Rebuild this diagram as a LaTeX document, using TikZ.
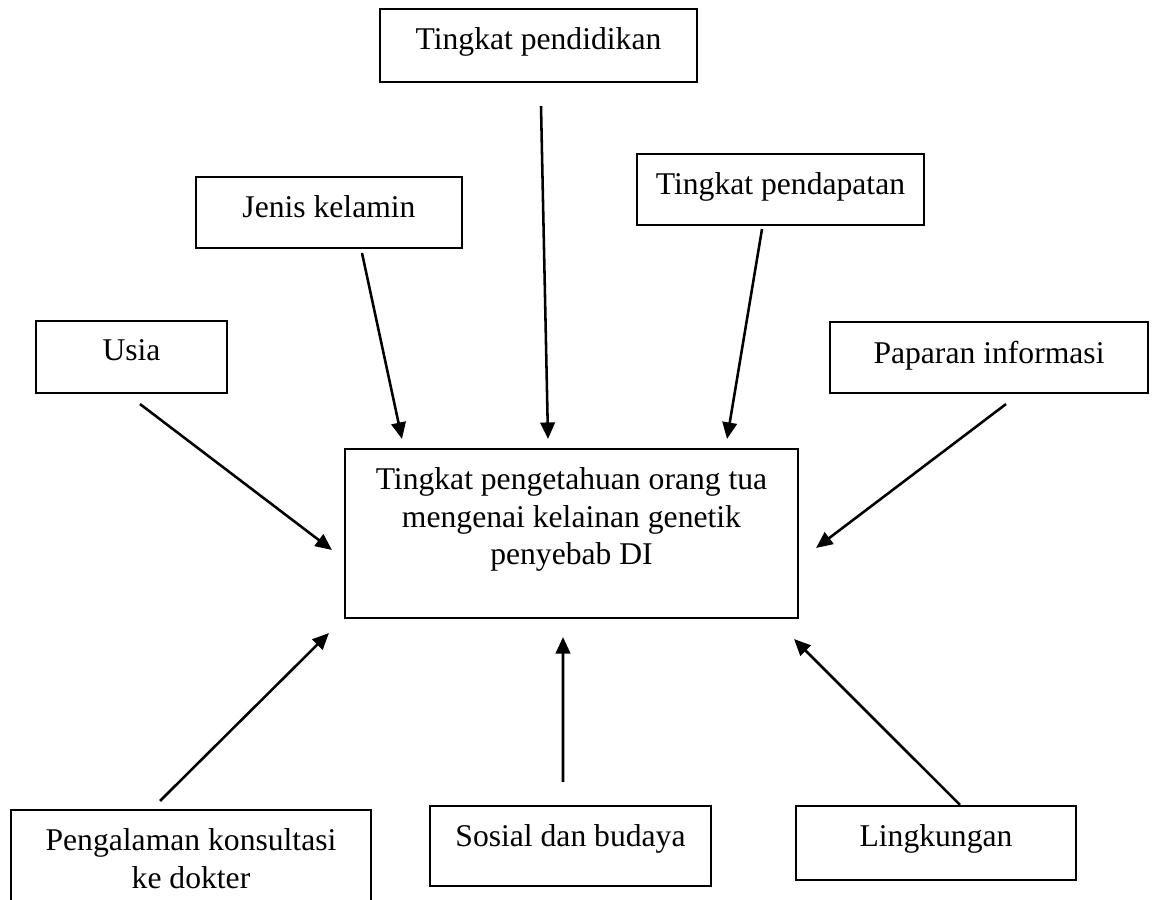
\documentclass[tikz,border=0pt]{standalone}
\usepackage{fontspec}
\setmainfont{Liberation Serif}
\usetikzlibrary{arrows.meta}
\newcommand{\isikotak}[3]{\parbox[c][#2][t]{#1}{\centering\vspace*{0.38cm}#3}}
\begin{document}
\begin{tikzpicture}[
  faktor/.style={draw, line width=1.2pt, inner sep=0pt, font=\fontsize{18}{21.3}\selectfont},
  panah/.style={-{Triangle[length=0.33cm, width=0.29cm]}, line width=1.45pt}
]
\useasboundingbox (0,0) rectangle (23.04,17.98);
\clip (0,0) rectangle (23.04,17.98);

% Central box
\node[faktor] (pusat) at (11.43, 7.31) {\isikotak{9.06cm}{3.38cm}{Tingkat pengetahuan orang tua\\ mengenai kelainan genetik\\ penyebab DI}};

% Upper factors
\node[faktor] (pendidikan) at (10.77, 17.07) {\isikotak{6.34cm}{1.46cm}{Tingkat pendidikan}};
\node[faktor] (jenis)      at (6.58, 13.73)  {\isikotak{5.32cm}{1.42cm}{Jenis kelamin}};
\node[faktor] (pendapatan) at (15.61, 14.19) {\isikotak{5.74cm}{1.42cm}{Tingkat pendapatan}};
\node[faktor] (usia)       at (2.63, 10.84)  {\isikotak{3.82cm}{1.44cm}{Usia}};
\node[faktor] (paparan)    at (19.78, 10.83) {\isikotak{6.36cm}{1.42cm}{Paparan informasi}};

% Lower factors
\node[faktor] (pengalaman) at (3.82, 0.68)  {\isikotak{7.2cm}{2.2cm}{Pengalaman konsultasi\\ ke dokter}};
\node[faktor] (sosial)     at (11.41, 1.06) {\isikotak{5.62cm}{1.6cm}{Sosial dan budaya}};
\node[faktor] (lingkungan) at (18.72, 1.12) {\isikotak{5.6cm}{1.48cm}{Lingkungan}};

% Arrows into the central box
\draw[panah] ([xshift=0.17cm, yshift=-0.2cm]usia.south) -- ([xshift=-0.24cm, yshift=-0.33cm]pusat.west);
\draw[panah] ([xshift=0.66cm, yshift=-0.08cm]jenis.south) -- ([xshift=-3.39cm, yshift=0.18cm]pusat.north);
\draw[panah] ([xshift=0.05cm, yshift=-0.46cm]pendidikan.south) -- ([xshift=-0.47cm, yshift=0.18cm]pusat.north);
\draw[panah] ([xshift=-0.37cm, yshift=-0.06cm]pendapatan.south) -- ([xshift=3.11cm, yshift=0.18cm]pusat.north);
\draw[panah] ([xshift=0.34cm, yshift=-0.2cm]paparan.south) -- ([xshift=0.34cm, yshift=-0.29cm]pusat.east);
\draw[panah] ([xshift=-0.62cm, yshift=0.16cm]pengalaman.north) -- ([xshift=-0.3cm, yshift=-0.28cm]pusat.south west);
\draw[panah] ([xshift=-0.15cm, yshift=0.46cm]sosial.north) -- ([xshift=-0.17cm, yshift=-0.36cm]pusat.south);
\draw[panah] ([xshift=0.48cm]lingkungan.north) -- ([xshift=-0.1cm, yshift=-0.4cm]pusat.south east);

\end{tikzpicture}
\end{document}
